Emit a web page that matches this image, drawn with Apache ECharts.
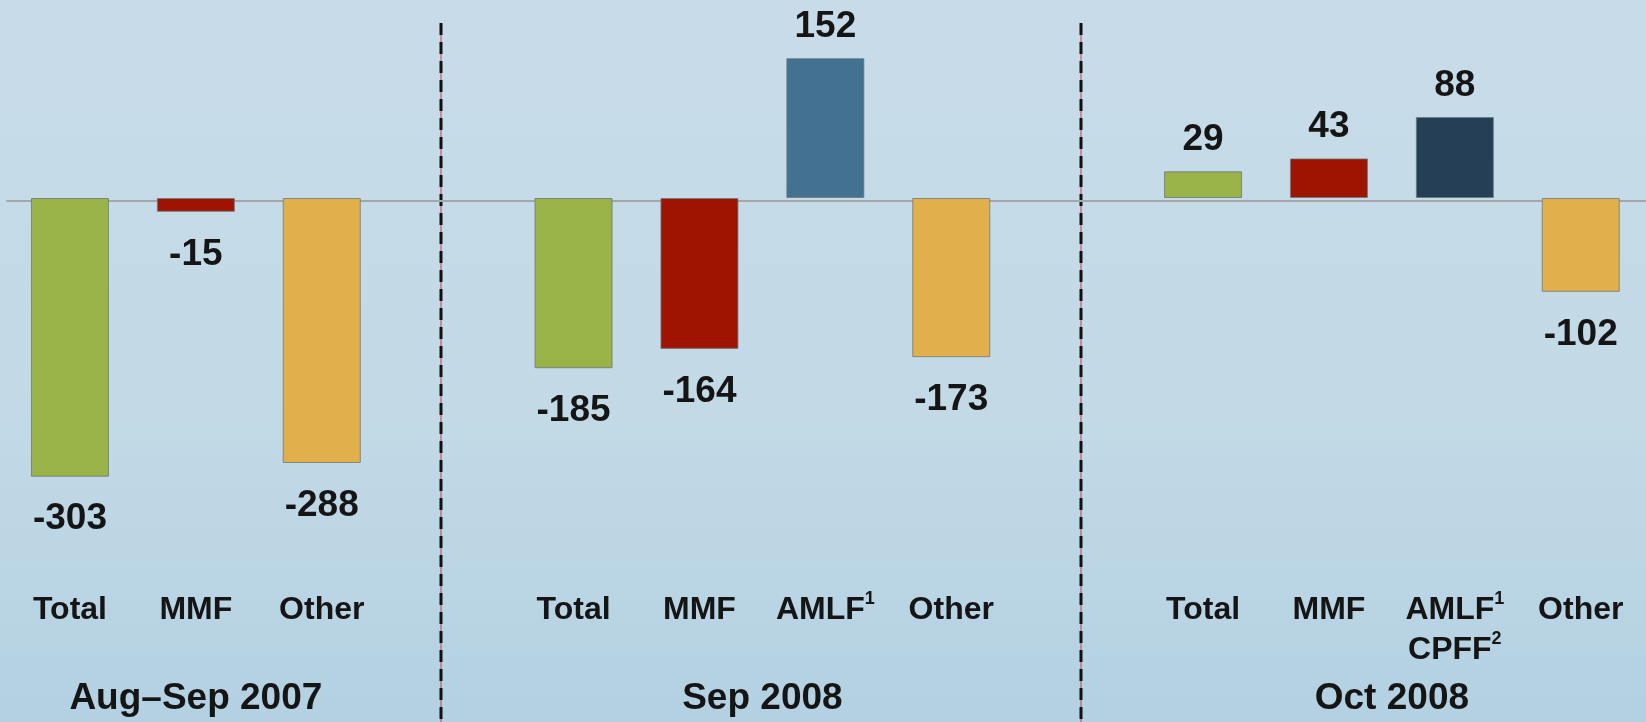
<!DOCTYPE html>
<html>
<head>
<meta charset="utf-8">
<script src="https://cdn.jsdelivr.net/npm/echarts@6/dist/echarts.min.js"></script>
<style>
  html, body { margin: 0; padding: 0; }
  #chart { width: 1646px; height: 722px; }
</style>
</head>
<body>
<div id="chart"></div>
<script>
// data
const groupTitles = ["Aug–Sep 2007", "Sep 2008", "Oct 2008"];
const categories2007 = ["Total", "MMF", "Other"];
const values2007 = [-303, -15, -288];
const categoriesSep2008 = ["Total", "MMF", "AMLF{sup|1}", "Other"];
const valuesSep2008 = [-185, -164, 152, -173];
const categoriesOct2008 = ["Total", "MMF", "AMLF{sup|1}\nCPFF{sup|2}", "Other"];
const valuesOct2008 = [29, 43, 88, -102];

// colours
const green = "#99b347", red = "#9e1400", orange = "#e2b04b";
const colors2007 = [green, red, orange];
const colorsSep2008 = [green, red, "#427191", orange];
const colorsOct2008 = [green, red, "#243f56", orange];

const FONT = "Liberation Sans";
const Y_MIN = -400, Y_MAX = 200;
const TOP = 14, HEIGHT = 560;
const SLOT = 125.9, LEFT = 7;

// each period sits on its own grid: [first slot, number of slots]
const layouts = [[0, 3], [4, 4], [9, 4]];
const cats = [categories2007, categoriesSep2008, categoriesOct2008];
const vals = [values2007, valuesSep2008, valuesOct2008];
const cols = [colors2007, colorsSep2008, colorsOct2008];

const grids = [{ left: LEFT, right: 0, top: TOP, height: HEIGHT }];
const xAxes = [{
  gridIndex: 0, type: "value", min: 0, max: 1,
  axisLine: { show: true, onZero: true, lineStyle: { color: "#a3a7aa", width: 2 } },
  axisTick: { show: false }, axisLabel: { show: false }, splitLine: { show: false }
}];
const yAxes = [{
  gridIndex: 0, type: "value", min: Y_MIN, max: Y_MAX, show: false, splitLine: { show: false }
}];
const series = [];

layouts.forEach((l, i) => {
  const g = i + 1;
  grids.push({ left: LEFT + l[0] * SLOT, width: l[1] * SLOT, top: TOP, height: HEIGHT });
  xAxes.push({
    gridIndex: g,
    type: "category",
    data: cats[i],
    axisLine: { show: false },
    axisTick: { show: false },
    axisLabel: {
      interval: 0,
      margin: 24,
      color: "#151515",
      fontFamily: FONT,
      fontWeight: "bold",
      fontSize: 32,
      lineHeight: 40,
      rich: {
        sup: { fontFamily: FONT, fontSize: 18, color: "#151515", verticalAlign: "top", lineHeight: 20 }
      }
    },
    name: groupTitles[i],
    nameLocation: "middle",
    nameGap: 114,
    nameTextStyle: { color: "#151515", fontFamily: FONT, fontWeight: "bold", fontSize: 37 }
  });
  yAxes.push({ gridIndex: g, type: "value", min: Y_MIN, max: Y_MAX, show: false, splitLine: { show: false } });
  series.push({
    type: "bar",
    xAxisIndex: g,
    yAxisIndex: g,
    barWidth: 78,
    data: vals[i].map((v, k) => ({
      value: v,
      itemStyle: { color: cols[i][k] },
      label: { distance: v < 0 ? 24 : 13 }
    })),
    itemStyle: { borderColor: "rgba(110,120,125,0.8)", borderWidth: 1 },
    label: {
      show: true,
      position: "outside",
      color: "#151515",
      fontFamily: FONT,
      fontWeight: "bold",
      fontSize: 37
    }
  });
});

// dashed dividers between the periods
function divider(x) {
  return {
    type: "group",
    children: [
      { type: "line", shape: { x1: x, y1: 23, x2: x, y2: 722 }, style: { stroke: "#c8365e", lineWidth: 1 } },
      { type: "line", shape: { x1: x, y1: 23, x2: x, y2: 722 }, style: { stroke: "#111", lineWidth: 3, lineDash: [12, 7] } }
    ]
  };
}

const myChart = echarts.init(document.getElementById("chart"));
myChart.setOption({
  animation: false,
  backgroundColor: {
    type: "linear", x: 0, y: 0, x2: 0, y2: 1,
    colorStops: [
      { offset: 0, color: "#c7dce8" },
      { offset: 0.6, color: "#c2d9e6" },
      { offset: 1, color: "#b3d1e2" }
    ]
  },
  grid: grids,
  xAxis: xAxes,
  yAxis: yAxes,
  series: series,
  graphic: [divider(441), divider(1081)]
});
</script>
</body>
</html>
